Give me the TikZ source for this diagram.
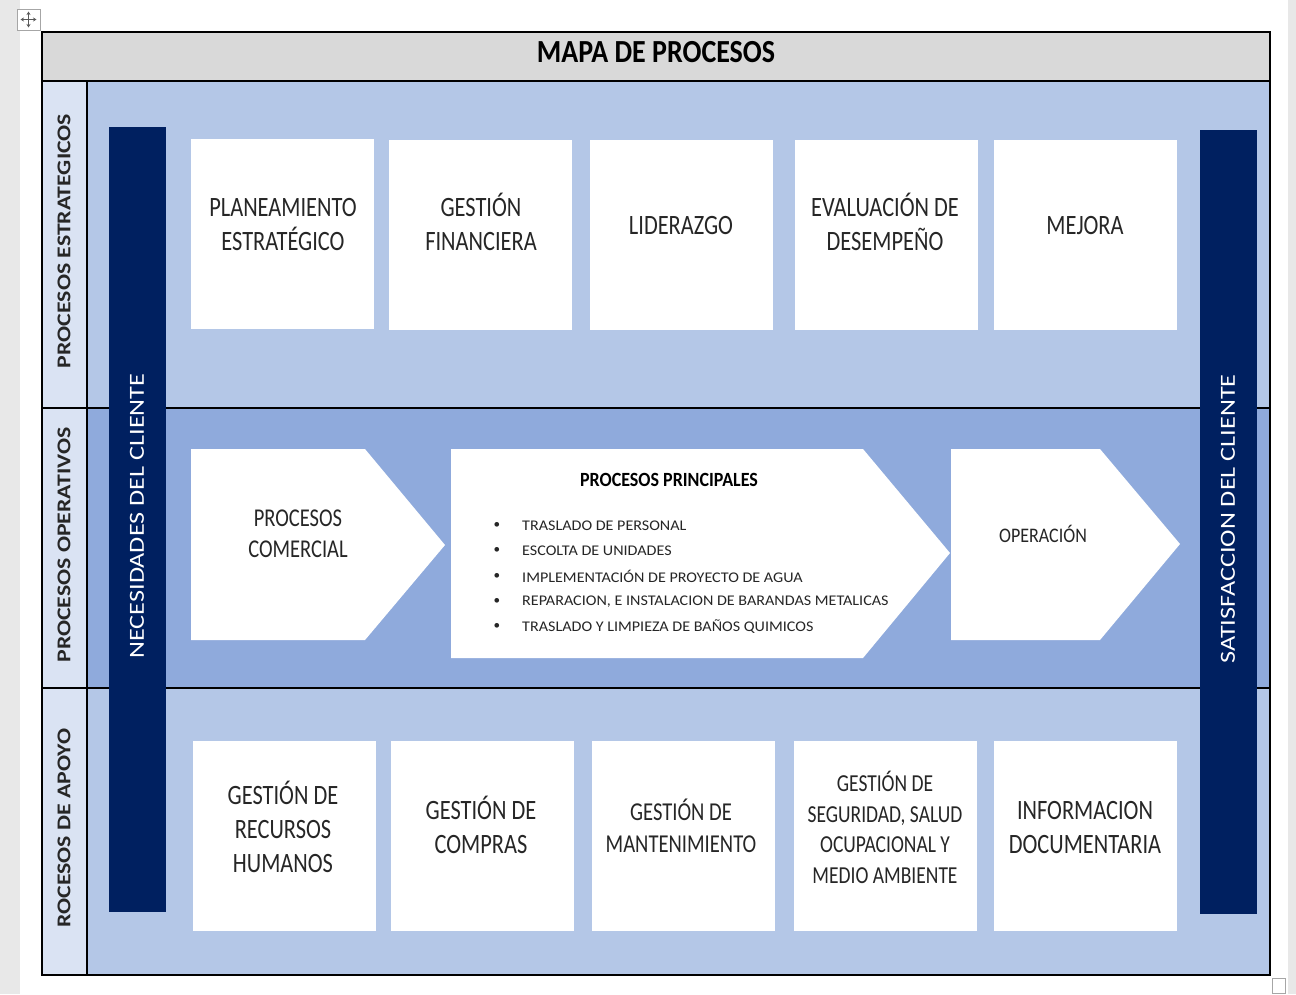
\documentclass[tikz,border=0pt]{standalone}
\usepackage{fontspec}
\setmainfont{Carlito}
\usepackage{graphicx}
\usetikzlibrary{positioning,arrows.meta}

\definecolor{titlegray}{HTML}{D9D9D9}
\definecolor{labelblue}{HTML}{DAE3F3}
\definecolor{lightblue}{HTML}{B4C7E7}
\definecolor{midblue}{HTML}{8FAADC}
\definecolor{navy}{HTML}{002060}
\definecolor{chrome}{HTML}{E8E8E8}
\definecolor{inkgray}{HTML}{262626}

% text of the screenshot is stretched: tall (vertical) and along (rotated)
\newcommand{\tall}[2][1.25]{\scalebox{1}[#1]{\begin{tabular}{@{}c@{}}#2\end{tabular}}}
\newcommand{\along}[2][1.22]{\scalebox{#1}[1]{#2}}

\tikzset{
  procbox/.style={fill=white, minimum width=183pt, minimum height=190pt, inner sep=0pt},
  boxtext/.style={text=inkgray, inner sep=0pt, yshift=-3pt, font=\fontsize{22.4}{27}\selectfont},
  smalltext/.style={text=inkgray, inner sep=0pt, yshift=-3pt, font=\fontsize{19.5}{24.5}\selectfont},
  rowlabel/.style={rotate=90, text=inkgray, inner sep=0pt, font=\fontsize{19.5}{24}\selectfont\bfseries},
  barlabel/.style={rotate=90, text=white, inner sep=0pt, font=\fontsize{21.5}{26}\selectfont},
  itemtext/.style={anchor=west, text=inkgray, inner sep=0pt, font=\fontsize{13.2}{16}\selectfont}
}

\begin{document}
\begin{tikzpicture}[x=1pt,y=1pt]
    \useasboundingbox (0,0) rectangle (1296,-994);
    % Window chrome
    \fill[chrome] (0,0) rectangle (20,-994);
    \fill[chrome] (1288,0) rectangle (1296,-994);
    \draw[gray!70, fill=white] (17,-9) rectangle (40,-30);
    \draw[gray!70!black, line width=1pt, {Stealth[length=3.5pt,width=4pt]}-{Stealth[length=3.5pt,width=4pt]}] (20.5,-19.5) -- (36.5,-19.5);
    \draw[gray!70!black, line width=1pt, {Stealth[length=3.5pt,width=4pt]}-{Stealth[length=3.5pt,width=4pt]}] (28.5,-11.5) -- (28.5,-27.5);
    \draw[gray!70, fill=white] (1272,-978) rectangle (1285,-993);

    % Table cells
    \fill[titlegray] (42,-32) rectangle (1270,-81);
    \fill[labelblue] (42,-81) rectangle (87,-975);
    \fill[lightblue] (87,-81) rectangle (1270,-408);
    \fill[midblue] (87,-408) rectangle (1270,-688);
    \fill[lightblue] (87,-688) rectangle (1270,-975);
    \draw[line width=1.3pt] (42,-81) -- (1270,-81);
    \draw[line width=1.3pt] (87,-81) -- (87,-975);
    \draw[line width=1.3pt] (42,-408) -- (1270,-408);
    \draw[line width=1.3pt] (42,-688) -- (1270,-688);
    \draw[line width=2pt] (42,-32) rectangle (1270,-975);

    % Title
    \node[font=\fontsize{28}{33}\selectfont\bfseries, inner sep=0pt] (title) at (656,-55) {\tall[1.15]{MAPA DE PROCESOS}};

    % Row labels
    \node[rowlabel] (estrat) at (64,-241) {\along{PROCESOS ESTRATEGICOS}};
    \node[rowlabel] (operat) at (64,-545) {\along{PROCESOS OPERATIVOS}};
    \node[rowlabel] (apoyo) at (64,-828) {\along{ROCESOS DE APOYO}};

    % Customer bars
    \fill[navy] (109,-127) rectangle (166,-912);
    \fill[navy] (1200,-130) rectangle (1257,-914);
    \node[barlabel] (necesidades) at (137,-516) {\along{NECESIDADES DEL CLIENTE}};
    \node[barlabel] (satisfaccion) at (1228,-519) {\along{SATISFACCION DEL CLIENTE}};

    % Strategic processes
    \node[procbox] (plan) at (282.5,-233.5) {};
    \node[procbox] (fin) at (480.5,-235) {};
    \node[procbox] (lid) at (681,-235) {};
    \node[procbox] (eval) at (886.5,-235) {};
    \node[procbox] (mej) at (1085,-235) {};
    \node[boxtext] (plan-t) at (283,-224) {\tall{PLANEAMIENTO\\ESTRATÉGICO}};
    \node[boxtext] (fin-t) at (481,-224) {\tall{GESTIÓN\\FINANCIERA}};
    \node[boxtext] (lid-t) at (681,-225) {\tall{LIDERAZGO}};
    \node[boxtext] (eval-t) at (885,-224) {\tall{EVALUACIÓN DE\\DESEMPEÑO}};
    \node[boxtext] (mej-t) at (1085,-225) {\tall{MEJORA}};

    % Operative processes
    \fill[white] (191,-449) -- (365,-449) -- (445,-545) -- (365,-640) -- (191,-640) -- cycle;
    \fill[white] (451,-449) -- (863,-449) -- (950,-553) -- (863,-658) -- (451,-658) -- cycle;
    \fill[white] (951,-449) -- (1100,-449) -- (1180,-544) -- (1100,-640) -- (951,-640) -- cycle;
    \node[boxtext, font=\fontsize{20.5}{24.8}\selectfont] (comercial) at (298,-533) {\tall{PROCESOS\\COMERCIAL}};
    \node[boxtext, font=\fontsize{18}{22}\selectfont] (operacion) at (1043,-534) {\tall[1.15]{OPERACIÓN}};
    \node[text=black, inner sep=0pt, font=\fontsize{18}{22}\selectfont\bfseries] (principales) at (669,-482) {\tall[1.12]{PROCESOS PRINCIPALES}};
    \foreach \txt [count=\i] in {TRASLADO DE PERSONAL, ESCOLTA DE UNIDADES,
        IMPLEMENTACIÓN DE PROYECTO DE AGUA,
        {REPARACION, E INSTALACION DE BARANDAS METALICAS},
        TRASLADO Y LIMPIEZA DE BAÑOS QUIMICOS} {
      \node[itemtext] (item\i) at (522,-500.5-25.2*\i) {\scalebox{1.22}[1.12]{\txt}};
      \node[itemtext, anchor=center] (dot\i) at (497,-500.5-25.2*\i) {\textbullet};
    }

    % Support processes
    \node[procbox] (rrhh) at (284.5,-835.5) {};
    \node[procbox] (compras) at (482.5,-835.5) {};
    \node[procbox] (mant) at (683,-835.5) {};
    \node[procbox] (ssoma) at (885,-835.5) {};
    \node[procbox] (doc) at (1085,-835.5) {};
    \node[boxtext] (rrhh-t) at (283,-828.5) {\tall{GESTIÓN DE\\RECURSOS\\HUMANOS}};
    \node[boxtext] (compras-t) at (481,-827) {\tall{GESTIÓN DE\\COMPRAS}};
    \node[boxtext, font=\fontsize{20.6}{25.6}\selectfont] (mant-t) at (681,-827) {\tall{GESTIÓN DE\\MANTENIMIENTO}};
    \node[smalltext] (ssoma-t) at (885,-828.5) {\tall{GESTIÓN DE\\SEGURIDAD, SALUD\\OCUPACIONAL Y\\MEDIO AMBIENTE}};
    \node[boxtext] (doc-t) at (1085,-827) {\tall{INFORMACION\\DOCUMENTARIA}};
\end{tikzpicture}
\end{document}
